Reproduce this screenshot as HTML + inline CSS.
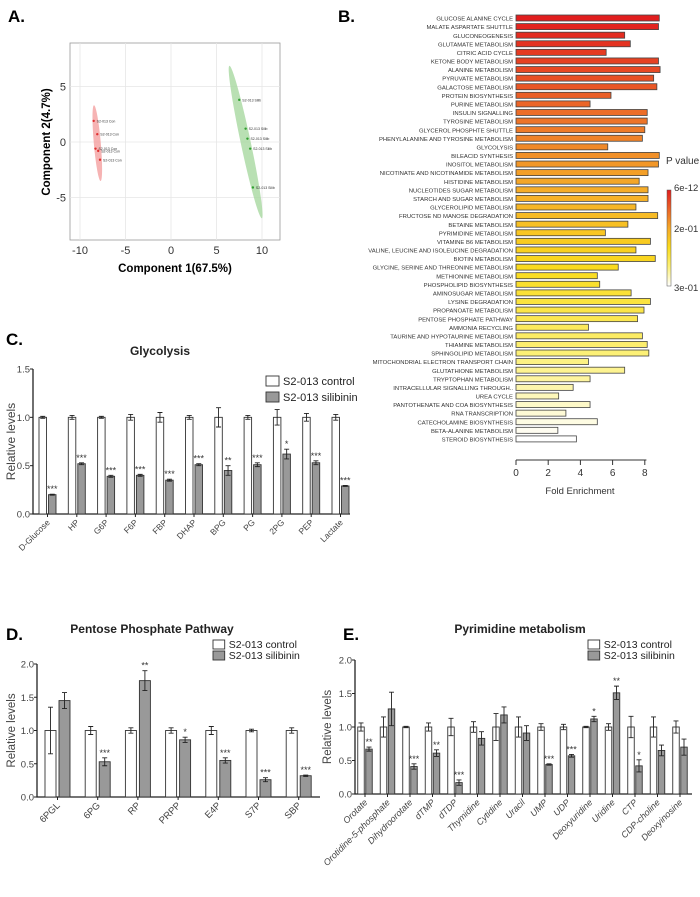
<!DOCTYPE html>
<html><head><meta charset="utf-8"><style>
html,body{margin:0;padding:0;background:#fff}
svg{display:block;font-family:"Liberation Sans",Arial,sans-serif}
</style></head><body>
<svg id="fig" width="700" height="897" viewBox="0 0 700 897" xmlns="http://www.w3.org/2000/svg">
<g id="pA"></g>
<g id="pB"></g>
<g id="pC"></g>
<g id="pD"></g>
<g id="pE"></g>
</svg>
<script>
// ---------- Panel A data ----------
const pcaCtrlX = [-8.5, -8.1, -8.3, -8.0, -7.8];
const pcaCtrlY = [1.9, 0.7, -0.6, -0.8, -1.6];
const pcaSilX = [7.5, 8.2, 8.4, 8.7, 9.0];
const pcaSilY = [3.8, 1.2, 0.3, -0.6, -4.1];
const pcaTicks = [-10, -5, 0, 5, 10];
const pcaYTicks = [5, 0, -5];

// ---------- Panel B data ----------
const pathways = ["GLUCOSE ALANINE CYCLE","MALATE ASPARTATE SHUTTLE","GLUCONEOGENESIS","GLUTAMATE METABOLISM","CITRIC ACID CYCLE","KETONE BODY METABOLISM","ALANINE METABOLISM","PYRUVATE METABOLISM","GALACTOSE METABOLISM","PROTEIN BIOSYNTHESIS","PURINE METABOLISM","INSULIN SIGNALLING","TYROSINE METABOLISM","GLYCEROL PHOSPHTE SHUTTLE","PHENYLALANINE   AND TYROSINE METABOLISM","GLYCOLYSIS","BILEACID SYNTHESIS","INOSITOL METABOLISM","NICOTINATE AND NICOTINAMIDE METABOLISM","HISTIDINE METABOLISM","NUCLEOTIDES SUGAR METABOLISM","STARCH AND SUGAR METABOLISM","GLYCEROLIPID METABOLISM","FRUCTOSE ND MANOSE DEGRADATION","BETAINE METABOLISM","PYRIMIDINE METABOLISM","VITAMINE B6 METABOLISM","VALINE, LEUCINE AND ISOLEUCINE DEGRADATION","BIOTIN METABOLISM","GLYCINE, SERINE AND THREONINE METABOLISM","METHIONINE METABOLISM","PHOSPHOLIPID BIOSYNTHESIS","AMINOSUGAR METABOLISM","LYSINE DEGRADATION","PROPANOATE METABOLISM","PENTOSE PHOSPHATE PATHWAY","AMMONIA RECYCLING","TAURINE AND HYPOTAURINE METABOLISM","THIAMINE METABOLISM","SPHINGOLIPID METABOLISM","MITOCHONDRIAL ELECTRON TRANSPORT CHAIN","GLUTATHIONE METABOLISM","TRYPTOPHAN METABOLISM","INTRACELLULAR SIGNALLING THROUGH..","UREA CYCLE","PANTOTHENATE AND COA BIOSYNTHESIS","RNA TRANSCRIPTION","CATECHOLAMINE BIOSYNTHESIS","BETA-ALANINE METABOLISM","STEROID BIOSYNTHESIS"];
const foldEnrichment = [8.9,8.85,6.75,7.1,5.6,8.85,8.95,8.55,8.75,5.9,4.6,8.15,8.15,8.0,7.85,5.7,8.9,8.85,8.2,7.65,8.2,8.2,7.45,8.8,6.95,5.55,8.35,7.45,8.65,6.35,5.05,5.2,7.15,8.35,7.95,7.55,4.5,7.85,8.15,8.25,4.5,6.75,4.6,3.55,2.65,4.6,3.1,5.05,2.6,3.75];
const foldTicks = [0,2,4,6,8];
const pLabels = ["6e-12","2e-01","3e-01"];

// ---------- Panel C data ----------
const glyCats = ["D-Glucose","HP","G6P","F6P","FBP","DHAP","BPG","PG","2PG","PEP","Lactate"];
const glyCtrl = [1,1,1,1,1,1,1,1,1,1,1];
const glyCtrlErr = [0.01,0.02,0.01,0.03,0.05,0.02,0.1,0.02,0.08,0.04,0.03];
const glySil = [0.20,0.52,0.39,0.40,0.35,0.51,0.45,0.51,0.62,0.53,0.29];
const glySilErr = [0.005,0.01,0.01,0.01,0.01,0.01,0.05,0.02,0.05,0.02,0.005];
const glyStars = ["***","***","***","***","***","***","**","***","*","***","***"];
const glyTicks = [0,0.5,1.0,1.5];

// ---------- Panel D data ----------
const ppCats = ["6PGL","6PG","RP","PRPP","E4P","S7P","SBP"];
const ppCtrl = [1,1,1,1,1,1,1];
const ppCtrlErr = [0.35,0.06,0.04,0.04,0.06,0.02,0.04];
const ppSil = [1.45,0.53,1.75,0.86,0.55,0.26,0.32];
const ppSilErr = [0.12,0.06,0.15,0.04,0.04,0.03,0.01];
const ppStars = ["","***","**","*","***","***","***"];
const ppTicks = [0,0.5,1.0,1.5,2.0];

// ---------- Panel E data ----------
const pyCats = ["Orotate","Orotidine-5-phosphate","Dihydroorotate","dTMP","dTDP","Thymidine","Cytidine","Uracil","UMP","UDP","Deoxyuridine","Uridine","CTP","CDP-choline","Deoxyinosine"];
const pyCtrl = [1,1,1,1,1,1,1,1,1,1,1,1,1,1,1];
const pyCtrlErr = [0.06,0.15,0.01,0.06,0.13,0.08,0.2,0.15,0.05,0.04,0.01,0.05,0.16,0.15,0.09];
const pySil = [0.67,1.27,0.41,0.61,0.17,0.83,1.18,0.91,0.44,0.57,1.12,1.51,0.42,0.65,0.70];
const pySilErr = [0.03,0.25,0.04,0.05,0.04,0.1,0.12,0.11,0.01,0.02,0.04,0.1,0.09,0.08,0.12];
const pyStars = ["**","","***","**","***","","","","***","***","*","**","*","",""];
const pyTicks = [0,0.5,1.0,1.5,2.0];

const NS = "http://www.w3.org/2000/svg";
function mk(parent, tag, attrs, text){
  const e = document.createElementNS(NS, tag);
  for (const k in attrs) e.setAttribute(k, attrs[k]);
  if (text !== undefined) e.textContent = text;
  parent.appendChild(e);
  return e;
}

// ===== Panel A =====
(function(){
  const g = document.getElementById('pA');
  const x = v => 171 + v * 9.1;
  const y = v => 142 - v * 11.1;
  let t = mk(g,'text',{x:8,y:22,'font-size':17,'font-weight':'bold'},'A.');
  
  
  const r = mk(g,'rect',{x:70,y:43,width:210,height:197,fill:'#fff',stroke:'#999','stroke-width':0.8});
  
  
  pcaTicks.forEach(v=>{
    const l = mk(g,'line',{x1:x(v),x2:x(v),y1:43,y2:240,stroke:'#e6e6e6','stroke-width':0.8});
    
    
    const tx = mk(g,'text',{x:x(v),y:254,'font-size':11,'text-anchor':'middle',fill:'#333'},String(v));
    
    
  });
  pcaYTicks.forEach(v=>{
    const l = mk(g,'line',{x1:70,x2:280,y1:y(v),y2:y(v),stroke:'#e6e6e6','stroke-width':0.8});
    
    
    const tx = mk(g,'text',{x:66,y:y(v)+4,'font-size':11,'text-anchor':'end',fill:'#333'},String(v));
    
    
  });
  let e1 = mk(g,'ellipse',{cx:x(-8.1),cy:y(-0.1),rx:3.5,ry:38,fill:'#f4a0a0','fill-opacity':0.8,transform:`rotate(-5 ${x(-8.1)} ${y(-0.1)})`});
  
  
  let e2 = mk(g,'ellipse',{cx:x(8.2),cy:y(0),rx:5,ry:78,fill:'#a8d8a0','fill-opacity':0.8,transform:`rotate(-12 ${x(8.2)} ${y(0)})`});
  
  
  pcaCtrlX.forEach((v,i)=>{
    const p = mk(g,'circle',{cx:x(v),cy:y(pcaCtrlY[i]),r:1.2,fill:'#e03030'});
    
    
    const tx = mk(g,'text',{x:x(v)+3,y:y(pcaCtrlY[i])+1.5,'font-size':3.5,fill:'#333'},'S2-013 Con');
    
    
  });
  pcaSilX.forEach((v,i)=>{
    const p = mk(g,'circle',{cx:x(v),cy:y(pcaSilY[i]),r:1.2,fill:'#30a030'});
    
    
    const tx = mk(g,'text',{x:x(v)+3,y:y(pcaSilY[i])+1.5,'font-size':3.5,fill:'#333'},'S2-013 Silib');
    
    
  });
  t = mk(g,'text',{x:175,y:272,'font-size':11.5,'font-weight':'bold','text-anchor':'middle'},'Component 1(67.5%)');
  
  
  t = mk(g,'text',{x:0,y:0,'font-size':11.5,'font-weight':'bold','text-anchor':'middle',transform:'translate(50 142) rotate(-90)'},'Component 2(4.7%)');
  
  
})();

// ===== Panel B =====
(function(){
  const g = document.getElementById('pB');
  const x0 = 516, unit = 16.1, rowY = i => 18 + i * 8.59;
  const n = pathways.length;
  const stops = [[225,30,30],[235,100,40],[245,170,40],[250,220,30],[252,240,120],[255,255,255]];
  function col(f){
    const p = f*(stops.length-1), i = Math.min(Math.floor(p), stops.length-2), r = p-i;
    const c = stops[i].map((v,k)=>Math.round(v+(stops[i+1][k]-v)*r));
    return `rgb(${c[0]},${c[1]},${c[2]})`;
  }
  let t = mk(g,'text',{x:338,y:22,'font-size':17,'font-weight':'bold'},'B.');
  
  
  pathways.forEach((name,i)=>{
    const y = rowY(i);
    const lb = mk(g,'text',{x:513,y:y+2.6,'font-size':5.9,'text-anchor':'end',fill:'#333'},name);
    
    
    const b = mk(g,'rect',{x:x0,y:y-3,width:foldEnrichment[i]*unit,height:6,fill:col(i/(n-1)),stroke:'#444','stroke-width':0.8});
    
    
  });
  const ax = mk(g,'line',{x1:x0,x2:x0+8.1*unit,y1:460,y2:460,stroke:'#333','stroke-width':1});
  
  
  foldTicks.forEach(v=>{
    const tk = mk(g,'line',{x1:x0+v*unit,x2:x0+v*unit,y1:460,y2:465,stroke:'#333','stroke-width':1});
    
    
    const tl = mk(g,'text',{x:x0+v*unit,y:476,'font-size':10,'text-anchor':'middle',fill:'#333'},String(v));
    
    
  });
  t = mk(g,'text',{x:580,y:494,'font-size':9.5,'text-anchor':'middle',fill:'#333'},'Fold Enrichment');
  
  
  const defs = mk(g,'defs',{});
  const lg = mk(defs,'linearGradient',{id:'pg',x1:0,y1:0,x2:0,y2:1});
  stops.forEach((s,i)=>mk(lg,'stop',{offset:i/(stops.length-1),'stop-color':`rgb(${s})`}));
  const cb = mk(g,'rect',{x:667,y:190,width:4,height:96,fill:'url(#pg)',stroke:'#555','stroke-width':0.5});
  
  
  t = mk(g,'text',{x:666,y:164,'font-size':10,fill:'#333'},'P value');
  
  
  [191,232,291].forEach((yy,i)=>{
    const l = mk(g,'text',{x:674,y:yy,'font-size':9.5,fill:'#333'},pLabels[i]);
    
    
  });
})();

// ===== generic bar chart =====
function barChart(g, o){
  const y = v => o.y0 - v / o.ymax * (o.y0 - o.ytop);
  const cx = i => o.x1 + i * o.step;
  const ax = mk(g,'path',{d:`M${o.xa} ${o.ytop} V${o.y0} H${o.xend}`,fill:'none',stroke:'#222','stroke-width':1.3});
  
  
  o.ticks.forEach(v=>{
    const tk = mk(g,'line',{x1:o.xa-3,x2:o.xa,y1:y(v),y2:y(v),stroke:'#222','stroke-width':1});
    
    
    const tl = mk(g,'text',{x:o.xa-3,y:y(v)+3.5,'font-size':9.5,'text-anchor':'end',fill:'#444'},v.toFixed(1));
    
    
  });
  o.cats.forEach((c,i)=>{
    const xc = cx(i);
    const bw = o.bw, gap = o.gap;
    [[o.ctrl,o.ctrlErr,'#fff',xc-gap/2-bw],[o.sil,o.silErr,'#999',xc+gap/2]].forEach(([vals,errs,fill,bx],k)=>{
      const v = vals[i];
      const b = mk(g,'rect',{x:bx,y:y(v),width:bw,height:o.y0-y(v),fill:fill,stroke:'#333','stroke-width':0.9});
      
      
      const m = bx+bw/2, e = errs[i];
      const eb = mk(g,'path',{d:`M${m} ${y(v+e)} V${y(v-e)} M${m-2.5} ${y(v+e)} H${m+2.5} M${m-2.5} ${y(v-e)} H${m+2.5}`,stroke:'#222','stroke-width':0.9,fill:'none'});
      
      
      if (k===1 && o.stars[i]){
        const s = mk(g,'text',{x:m,y:y(v+e)-2,'font-size':9,'text-anchor':'middle',fill:'#333'},o.stars[i]);
        
        
      }
    });
    const tk = mk(g,'line',{x1:xc,x2:xc,y1:o.y0,y2:o.y0+3,stroke:'#222','stroke-width':1});
    
    
    const tl = mk(g,'text',{x:0,y:0,'font-size':o.lfs,'text-anchor':'end',fill:'#444','font-style':o.italic?'italic':'normal',transform:`translate(${xc+3} ${o.y0+9}) rotate(-45)`},c);
    
    
  });
  let t = mk(g,'text',{x:o.tx,y:o.ty,'font-size':12,'font-weight':'bold','text-anchor':'middle',fill:'#222'},o.title);
  
  
  t = mk(g,'text',{x:o.px,y:o.py,'font-size':17,'font-weight':'bold'},o.plabel);
  
  
  t = mk(g,'text',{x:0,y:0,'font-size':o.ylfs,'text-anchor':'middle',fill:'#444',transform:`translate(${o.ylx} ${(o.y0+o.ytop)/2}) rotate(-90)`,'xml:space':'preserve'},o.ylabel);
  
  
  [['S2-013 control','#fff',0],['S2-013 silibinin','#999',1]].forEach(([lab,fill,k])=>{
    const r = mk(g,'rect',{x:o.lx,y:o.ly+k*o.lsp-o.lbox+1,width:o.lbox*1.3,height:o.lbox,fill:fill,stroke:'#333','stroke-width':0.9});
    
    
    const tl = mk(g,'text',{x:o.lx+o.lbox*1.3+4,y:o.ly+k*o.lsp,'font-size':o.lfsz,fill:'#222'},lab);
    
    
  });
}

barChart(document.getElementById('pC'),{cats:glyCats,ctrl:glyCtrl,ctrlErr:glyCtrlErr,sil:glySil,silErr:glySilErr,stars:glyStars,ticks:glyTicks,
  ymax:1.5,y0:514,ytop:369,xa:33,xend:350,x1:47.5,step:29.3,bw:7.5,gap:2,lfs:8.5,italic:false,
  title:'Glycolysis',tx:160,ty:355,plabel:'C.',px:6,py:345,ylabel:'Relative    levels',ylx:15,ylfs:12,
  lx:266,ly:385,lsp:16,lbox:10,lfsz:11});
barChart(document.getElementById('pD'),{cats:ppCats,ctrl:ppCtrl,ctrlErr:ppCtrlErr,sil:ppSil,silErr:ppSilErr,stars:ppStars,ticks:ppTicks,
  ymax:2.0,y0:797,ytop:664,xa:37,xend:320,x1:57.5,step:40.2,bw:11,gap:3,lfs:9.5,italic:false,
  title:'Pentose Phosphate Pathway',tx:152,ty:633,plabel:'D.',px:6,py:640,ylabel:'Relative levels',ylx:15,ylfs:11.5,
  lx:213,ly:648,lsp:11,lbox:9,lfsz:10.5});
barChart(document.getElementById('pE'),{cats:pyCats,ctrl:pyCtrl,ctrlErr:pyCtrlErr,sil:pySil,silErr:pySilErr,stars:pyStars,ticks:pyTicks,
  ymax:2.0,y0:794,ytop:660,xa:355,xend:692,x1:365,step:22.5,bw:6.5,gap:1.5,lfs:9,italic:true,
  title:'Pyrimidine metabolism',tx:520,ty:633,plabel:'E.',px:343,py:640,ylabel:'Relative   levels',ylx:331,ylfs:11.5,
  lx:588,ly:648,lsp:11,lbox:9,lfsz:10.5});
</script>
</body></html>
